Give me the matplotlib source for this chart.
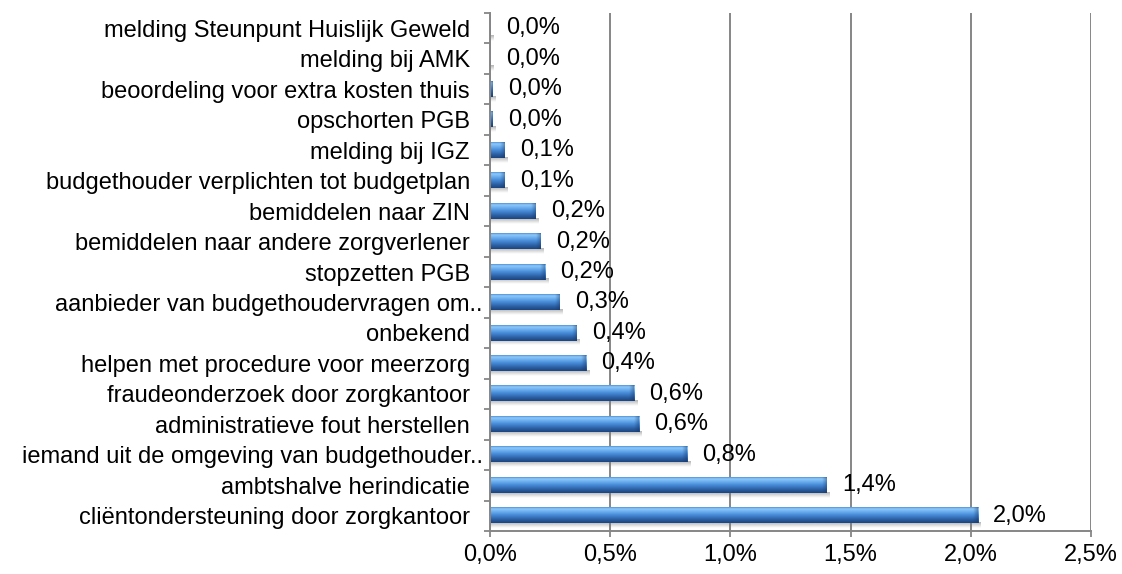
import numpy as np
import matplotlib
matplotlib.use("Agg")
from matplotlib import pyplot as plt
from matplotlib.colors import LinearSegmentedColormap, to_rgb
from matplotlib.transforms import ScaledTranslation

plt.rcParams["font.family"] = ["Liberation Sans", "DejaVu Sans"]

# categories listed top to bottom, values in percent
categories = [
    "melding Steunpunt Huislijk Geweld",
    "melding bij AMK",
    "beoordeling voor extra kosten thuis",
    "opschorten PGB",
    "melding bij IGZ",
    "budgethouder verplichten tot budgetplan",
    "bemiddelen naar ZIN",
    "bemiddelen naar andere zorgverlener",
    "stopzetten PGB",
    "aanbieder van budgethoudervragen om..",
    "onbekend",
    "helpen met procedure voor meerzorg",
    "fraudeonderzoek door zorgkantoor",
    "administratieve fout herstellen",
    "iemand uit de omgeving van budgethouder..",
    "ambtshalve herindicatie",
    "cliëntondersteuning door zorgkantoor",
]
values = [0.004, 0.004, 0.012, 0.012, 0.06, 0.06, 0.19, 0.21, 0.23,
          0.29, 0.36, 0.40, 0.60, 0.62, 0.82, 1.40, 2.03]
xticks = [0.0, 0.5, 1.0, 1.5, 2.0, 2.5]

GRID = "#868686"
BAR_H = 0.5
FS = 17
CAP = 0.02  # width of the bevelled bar end, in percent

# vertical shading of a bar, bottom -> top
bar_cmap = LinearSegmentedColormap.from_list(
    "bar",
    [(0.0, "#1d4680"), (0.2, "#2a5c9e"), (0.5, "#468ad8"),
     (0.75, "#72b4f2"), (0.9, "#8ec8f8"), (1.0, "#4f90d8")],
)
shade = bar_cmap(np.linspace(0, 1, 64))[:, None, :]

# soft grey drop shadow under each bar
sh = np.zeros((16, 1, 4))
sh[..., :3] = to_rgb("#7a7a7a")
sh[:, 0, 3] = np.linspace(0.0, 0.55, 16)

# darkening towards the bar end
cap = np.zeros((1, 16, 4))
cap[..., :3] = to_rgb("#14325e")
cap[0, :, 3] = np.linspace(0.0, 0.4, 16)


def pct(v):
    return f"{v:.1f}".replace(".", ",") + "%"


fig = plt.figure(figsize=(11.22, 5.74), dpi=100)
ax = fig.add_axes([490 / 1122, 1 - 531 / 574, (1091 - 490) / 1122, (531 - 13) / 574])

n = len(categories)
ypos = [n - 1 - i for i in range(n)]

for y, v in zip(ypos, values):
    y0, y1 = y - BAR_H / 2, y + BAR_H / 2
    ax.imshow(sh, extent=(0, v + 0.012, y0 - 0.16, y0 + 0.02),
              origin="lower", aspect="auto", interpolation="bilinear", zorder=2)
    ax.imshow(shade, extent=(0, v, y0, y1),
              origin="lower", aspect="auto", interpolation="bilinear", zorder=3)
    ax.imshow(cap, extent=(v - min(v, CAP), v, y0, y1),
              origin="lower", aspect="auto", interpolation="bilinear", zorder=3.5)
    ax.annotate(pct(v), (v, y), xytext=(11, 0), textcoords="offset points",
                va="center", ha="left", fontsize=FS, color="black", zorder=4)

ax.set_xlim(0, 2.5)
ax.set_ylim(-0.5, n - 0.5)

ax.set_xticks(xticks)
ax.set_xticklabels([pct(t) for t in xticks], fontsize=FS)
ax.set_yticks(ypos)
ax.set_yticklabels(categories, fontsize=FS)
ax.set_yticks(np.arange(-0.5, n, 1.0), minor=True)

ax.tick_params(axis="y", which="major", length=0, pad=14.5)
ax.tick_params(axis="y", which="minor", length=4.5, width=1.3, color=GRID)
ax.tick_params(axis="x", length=4.5, width=1.3, color=GRID, pad=5)

# shortened labels run a little past the others
for lab in ax.get_yticklabels():
    if lab.get_text().endswith(".."):
        lab.set_transform(lab.get_transform() + ScaledTranslation(13 / 100, 0, fig.dpi_scale_trans))

ax.xaxis.grid(True, color=GRID, linewidth=1.4)
ax.set_axisbelow(True)
for side in ("top", "right"):
    ax.spines[side].set_visible(False)
for side in ("left", "bottom"):
    ax.spines[side].set_color(GRID)
    ax.spines[side].set_linewidth(1.4)
    ax.spines[side].set_zorder(5)

fig.savefig("out.png", dpi=100)
